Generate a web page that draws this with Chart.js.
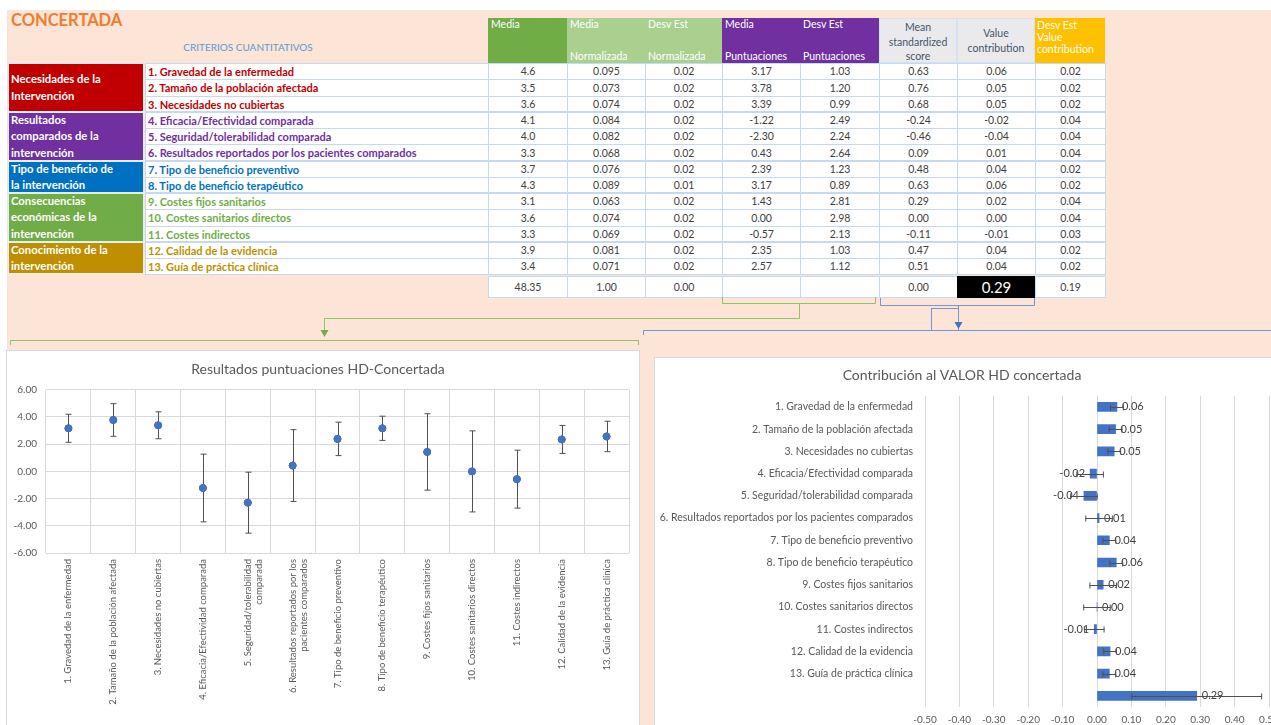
<!DOCTYPE html>
<html>
<head>
<meta charset="utf-8">
<script src="https://cdn.jsdelivr.net/npm/chart.js@4.4.0/dist/chart.umd.min.js"></script>
<style>
  body { margin:0; width:1271px; height:725px; overflow:hidden; background:#fff; position:relative; font-family:Lato, 'Noto Sans', sans-serif; }
  #fondo { position:absolute; left:7px; top:10px; width:1264px; height:715px; background:#FCE4D6; }
  .c { position:absolute; box-sizing:border-box; white-space:nowrap; overflow:hidden; }
  .panel { position:absolute; background:#fff; border:1px solid #D9D9D9; box-sizing:border-box; }
  #titulo { position:absolute; left:11px; top:10px; font-size:16.5px; font-weight:bold; color:#ED7D31; }
  #criterios { position:absolute; left:145px; top:41px; width:206px; text-align:center; font-size:10px; color:#5B9BD5; }
</style>
</head>
<body>
<div id="fondo"></div>
<div id="titulo">CONCERTADA</div>
<div id="criterios">CRITERIOS CUANTITATIVOS</div>
<div id="tabla"></div>

<svg width="1271" height="725" style="position:absolute;left:0;top:0;pointer-events:none">
  <g fill="none" stroke="#8FC467" stroke-width="1">
    <path d="M722.5 297 V303.5 H875.5 V297"/>
    <path d="M799.5 303.5 V318.5 H324.5 V331"/>
    <path d="M10.5 345 V340.5 H638.5 V345"/>
  </g>
  <polygon points="320.5,330 328.5,330 324.5,337" fill="#70AD47"/>
  <g fill="none" stroke="#7396D8" stroke-width="1">
    <path d="M880.5 298 V305.5 H1034.5 V298"/>
    <path d="M958.5 305.5 V324"/>
    <rect x="931.5" y="308.5" width="27" height="22"/>
    <path d="M643.5 335 V330.5 H1271"/>
  </g>
  <polygon points="954.5,322 962.5,322 958.5,329" fill="#4472C4"/>
</svg>

<div class="panel" style="left:6px;top:350px;width:634px;height:380px;">
  <canvas id="puntuaciones" width="632" height="378"></canvas>
</div>
<div class="panel" style="left:654px;top:357px;width:640px;height:375px;">
  <canvas id="contribucion" width="638" height="373"></canvas>
</div>

<script>
// criterios y grupos
const criterios = [
  '1. Gravedad de la enfermedad', '2. Tamaño de la población afectada', '3. Necesidades no cubiertas',
  '4. Eficacia/Efectividad comparada', '5. Seguridad/tolerabilidad comparada',
  '6. Resultados reportados por los pacientes comparados',
  '7. Tipo de beneficio preventivo', '8. Tipo de beneficio terapéutico',
  '9. Costes fijos sanitarios', '10. Costes sanitarios directos', '11. Costes indirectos',
  '12. Calidad de la evidencia', '13. Guía de práctica clínica'
];
const etiquetasEje = [
  '1. Gravedad de la enfermedad', '2. Tamaño de la población afectada', '3. Necesidades no cubiertas',
  '4. Eficacia/Efectividad comparada', ['5. Seguridad/tolerabilidad', 'comparada'],
  ['6. Resultados reportados por los', 'pacientes comparados'],
  '7. Tipo de beneficio preventivo', '8. Tipo de beneficio terapéutico',
  '9. Costes fijos sanitarios', '10. Costes sanitarios directos', '11. Costes indirectos',
  '12. Calidad de la evidencia', '13. Guía de práctica clínica'
];
const grupoNombres = [
  ['Necesidades de la', 'Intervención'],
  ['Resultados', 'comparados de la', 'intervención'],
  ['Tipo de beneficio de', 'la intervención'],
  ['Consecuencias', 'económicas de la', 'intervención'],
  ['Conocimiento de la', 'intervención']
];
const grupoFilas = [3, 3, 2, 3, 2];
const grupoColores = ['#C00000', '#7030A0', '#0070C0', '#70AD47', '#BF8F00'];

// valores de la tabla
const media         = [4.6, 3.5, 3.6, 4.1, 4.0, 3.3, 3.7, 4.3, 3.1, 3.6, 3.3, 3.9, 3.4];
const mediaNorm     = [0.095, 0.073, 0.074, 0.084, 0.082, 0.068, 0.076, 0.089, 0.063, 0.074, 0.069, 0.081, 0.071];
const desvNorm      = [0.02, 0.02, 0.02, 0.02, 0.02, 0.02, 0.02, 0.01, 0.02, 0.02, 0.02, 0.02, 0.02];
const mediaPunt     = [3.17, 3.78, 3.39, -1.22, -2.30, 0.43, 2.39, 3.17, 1.43, 0.00, -0.57, 2.35, 2.57];
const desvPunt      = [1.03, 1.20, 0.99, 2.49, 2.24, 2.64, 1.23, 0.89, 2.81, 2.98, 2.13, 1.03, 1.12];
const meanStd       = [0.63, 0.76, 0.68, -0.24, -0.46, 0.09, 0.48, 0.63, 0.29, 0.00, -0.11, 0.47, 0.51];
const valorContrib  = [0.058, 0.054, 0.050, -0.020, -0.038, 0.006, 0.036, 0.056, 0.018, 0.000, -0.008, 0.038, 0.036];
const desvContrib   = [0.02, 0.02, 0.02, 0.04, 0.04, 0.04, 0.02, 0.02, 0.04, 0.04, 0.03, 0.02, 0.02];
const totales       = ['48.35', '1.00', '0.00', '', '', '0.00', '0.29', '0.19'];
const valorTotal = 0.29;
const desvTotal = 0.19;

// ---------- tabla ----------
const tabla = document.getElementById('tabla');
function cell(x, y, w, h, html, style) {
  const d = document.createElement('div');
  d.className = 'c';
  Object.assign(d.style, { left: x + 'px', top: y + 'px', width: w + 'px', height: h + 'px' }, style || {});
  d.innerHTML = html;
  tabla.appendChild(d);
  return d;
}
const colX = [488, 567, 645, 722, 800, 879, 957, 1035, 1105];
const filaY = i => Math.round(63 + i * 16.25);
const cabeceras = [
  { t: 'Media', b: '', bg: '#70AD47', col: '#fff' },
  { t: 'Media', b: 'Normalizada', bg: '#A9D08E', col: '#fff' },
  { t: 'Desv Est', b: 'Normalizada', bg: '#A9D08E', col: '#fff' },
  { t: 'Media', b: 'Puntuaciones', bg: '#7030A0', col: '#fff' },
  { t: 'Desv Est', b: 'Puntuaciones', bg: '#7030A0', col: '#fff' }
];
cabeceras.forEach((h, j) => {
  cell(colX[j], 18, colX[j + 1] - colX[j], 45,
    `<div style="position:absolute;left:3px;top:0px">${h.t}</div><div style="position:absolute;left:3px;bottom:1px">${h.b}</div>`,
    { background: h.bg, color: h.col, fontSize: '10.5px' });
});
cell(colX[5], 18, colX[6] - colX[5], 45, 'Mean<br>standardized<br>score',
  { background: '#EAEAEC', color: '#44546A', fontSize: '10.5px', textAlign: 'center', lineHeight: '14.5px', border: '1px solid #D6E2F0', paddingTop: '1px' });
cell(colX[6], 18, colX[7] - colX[6], 45, 'Value<br>contribution',
  { background: '#EAEAEC', color: '#44546A', fontSize: '10.5px', textAlign: 'center', lineHeight: '15px', border: '1px solid #D6E2F0', paddingTop: '7px' });
cell(colX[7], 18, colX[8] - colX[7], 45, 'Desv Est<br>Value<br>contribution',
  { background: '#FFC000', color: '#fff', fontSize: '10.5px', lineHeight: '12px', paddingLeft: '2px', paddingTop: '1px' });

// grupos
let fila = 0;
grupoNombres.forEach((g, k) => {
  const y0 = filaY(fila), y1 = filaY(fila + grupoFilas[k]);
  cell(8, y0, 136, y1 - y0, g.join('<br>'),
    { background: grupoColores[k], color: '#fff', fontWeight: 'bold', fontSize: '11.3px', lineHeight: '16.25px',
      paddingLeft: '2px', border: '1px solid #E4EEF8', display: 'flex', flexDirection: 'column', justifyContent: 'center' });
  for (let r = 0; r < grupoFilas[k]; r++) {
    const i = fila + r;
    const yy = filaY(i), hh = filaY(i + 1) - yy + 1;
    cell(145, yy, colX[0] - 145 + 1, hh, criterios[i],
      { background: '#fff', color: grupoColores[k], fontWeight: 'bold', fontSize: '11px', lineHeight: (hh - 2) + 'px',
        paddingLeft: '2px', border: '1px solid #C5DAF0' });
    const valores = [media[i].toFixed(1), mediaNorm[i].toFixed(3), desvNorm[i].toFixed(2), mediaPunt[i].toFixed(2),
      desvPunt[i].toFixed(2), meanStd[i].toFixed(2), valorContrib[i].toFixed(2), desvContrib[i].toFixed(2)];
    valores.forEach((v, j) => {
      cell(colX[j], yy, colX[j + 1] - colX[j] + 1, hh, v.replace('-0.00', '0.00'),
        { background: '#fff', color: '#404040', fontSize: '10.5px', textAlign: 'center', lineHeight: (hh - 2) + 'px', border: '1px solid #C5DAF0' });
    });
  }
  fila += grupoFilas[k];
  if (k < grupoNombres.length - 1) {
    cell(145, filaY(fila) - 1, colX[8] - 145 + 1, 3, '', { background: '#C5DAF0' });
  }
});
// fila de totales
totales.forEach((v, j) => {
  const negro = j === 6;
  cell(colX[j], 276, colX[j + 1] - colX[j] + 1, 22, v,
    { background: negro ? '#000' : '#fff', color: negro ? '#fff' : '#404040', fontSize: negro ? '15px' : '10.5px',
      textAlign: 'center', lineHeight: '20px', border: negro ? '1px solid #000' : '1px solid #C5DAF0' });
});

// ---------- gráficos ----------
Chart.defaults.font.family = "Lato, 'Noto Sans', sans-serif";
Chart.defaults.color = '#595959';

// barras de error dibujadas con las escalas del gráfico
const barrasError = {
  id: 'barrasError',
  afterDatasetsDraw(chart) {
    const ds = chart.data.datasets[0];
    const meta = chart.getDatasetMeta(0);
    const ctx = chart.ctx;
    const horizontal = chart.options.indexAxis === 'y';
    const escala = horizontal ? chart.scales.x : chart.scales.y;
    ctx.save();
    ctx.strokeStyle = '#505050';
    ctx.lineWidth = 1;
    meta.data.forEach((el, i) => {
      const v = ds.data[i], e = ds.errores[i];
      const a = escala.getPixelForValue(v - e), b = escala.getPixelForValue(v + e);
      ctx.beginPath();
      if (horizontal) {
        const y = Math.round(el.y) + 0.5;
        ctx.moveTo(a, y); ctx.lineTo(b, y);
        ctx.moveTo(a + 0.5, y - 3); ctx.lineTo(a + 0.5, y + 3);
        ctx.moveTo(b - 0.5, y - 3); ctx.lineTo(b - 0.5, y + 3);
      } else {
        const x = Math.round(el.x) + 0.5;
        ctx.moveTo(x, a); ctx.lineTo(x, b);
        ctx.moveTo(x - 3, a); ctx.lineTo(x + 3, a);
        ctx.moveTo(x - 3, b); ctx.lineTo(x + 3, b);
      }
      ctx.stroke();
    });
    ctx.restore();
    if (!horizontal) {
      // redibujar los puntos encima de las barras
      meta.data.forEach(el => el.draw(ctx));
    }
  }
};

// etiquetas de valor en el extremo de cada barra
const etiquetasValor = {
  id: 'etiquetasValor',
  afterDatasetsDraw(chart) {
    const ds = chart.data.datasets[0];
    const meta = chart.getDatasetMeta(0);
    const ctx = chart.ctx;
    ctx.save();
    ctx.font = "11px Lato, 'Noto Sans', sans-serif";
    ctx.fillStyle = '#404040';
    ctx.textBaseline = 'middle';
    meta.data.forEach((el, i) => {
      const v = ds.data[i];
      const txt = Math.abs(v) < 0.005 ? '0.00' : v.toFixed(2);
      if (v < 0) { ctx.textAlign = 'right'; ctx.fillText(txt, el.x - 5, el.y); }
      else { ctx.textAlign = 'left'; ctx.fillText(txt, el.x + 5, el.y); }
    });
    ctx.restore();
  }
};

new Chart(document.getElementById('puntuaciones'), {
  type: 'line',
  data: {
    labels: etiquetasEje,
    datasets: [{
      data: mediaPunt,
      errores: desvPunt,
      showLine: false,
      pointRadius: 3.5,
      pointBackgroundColor: '#4472C4',
      pointBorderColor: '#4472C4'
    }]
  },
  options: {
    responsive: false,
    animation: false,
    layout: { padding: { right: 10 } },
    plugins: {
      legend: { display: false },
      tooltip: { enabled: false },
      title: {
        display: true,
        text: 'Resultados puntuaciones HD-Concertada',
        color: '#595959',
        font: { size: 14, weight: 'normal' },
        padding: { top: 10, bottom: 12 }
      }
    },
    scales: {
      x: {
        offset: true,
        grid: { offset: true, color: '#D9D9D9', drawTicks: false },
        border: { display: false },
        ticks: { minRotation: 90, maxRotation: 90, autoSkip: false, padding: 6, color: '#595959', font: { size: 9.5 } },
        afterFit: s => { s.height = 176; }
      },
      y: {
        min: -6, max: 6,
        grid: { color: '#D9D9D9', drawTicks: false },
        border: { display: false },
        ticks: { stepSize: 2, padding: 9, color: '#595959', font: { size: 10 }, callback: v => v.toFixed(2) },
        afterFit: s => { s.width = 39; }
      }
    }
  },
  plugins: [barrasError]
});

new Chart(document.getElementById('contribucion'), {
  type: 'bar',
  data: {
    labels: [...criterios, ''],
    datasets: [{
      data: [...valorContrib, valorTotal],
      errores: [...desvContrib, desvTotal],
      backgroundColor: '#4472C4',
      barThickness: 9
    }]
  },
  options: {
    indexAxis: 'y',
    responsive: false,
    animation: false,
    layout: { padding: { right: 24 } },
    plugins: {
      legend: { display: false },
      tooltip: { enabled: false },
      title: {
        display: true,
        text: 'Contribución al VALOR HD concertada',
        color: '#595959',
        font: { size: 14, weight: 'normal' },
        padding: { top: 9, bottom: 12 }
      }
    },
    scales: {
      x: {
        min: -0.5, max: 0.5,
        grid: { color: '#D9D9D9', drawTicks: false },
        border: { display: false },
        ticks: { stepSize: 0.1, padding: 7, color: '#595959', font: { size: 10 },
          callback: v => Math.abs(v) < 1e-9 ? '0.00' : v.toFixed(2) },
        afterFit: s => { s.height = 24; }
      },
      y: {
        grid: { display: false },
        border: { display: false },
        ticks: { autoSkip: false, padding: 4, color: '#595959', font: { size: 10.5 } },
        afterFit: s => { s.width = 270; }
      }
    }
  },
  plugins: [etiquetasValor, barrasError]
});
</script>
</body>
</html>
